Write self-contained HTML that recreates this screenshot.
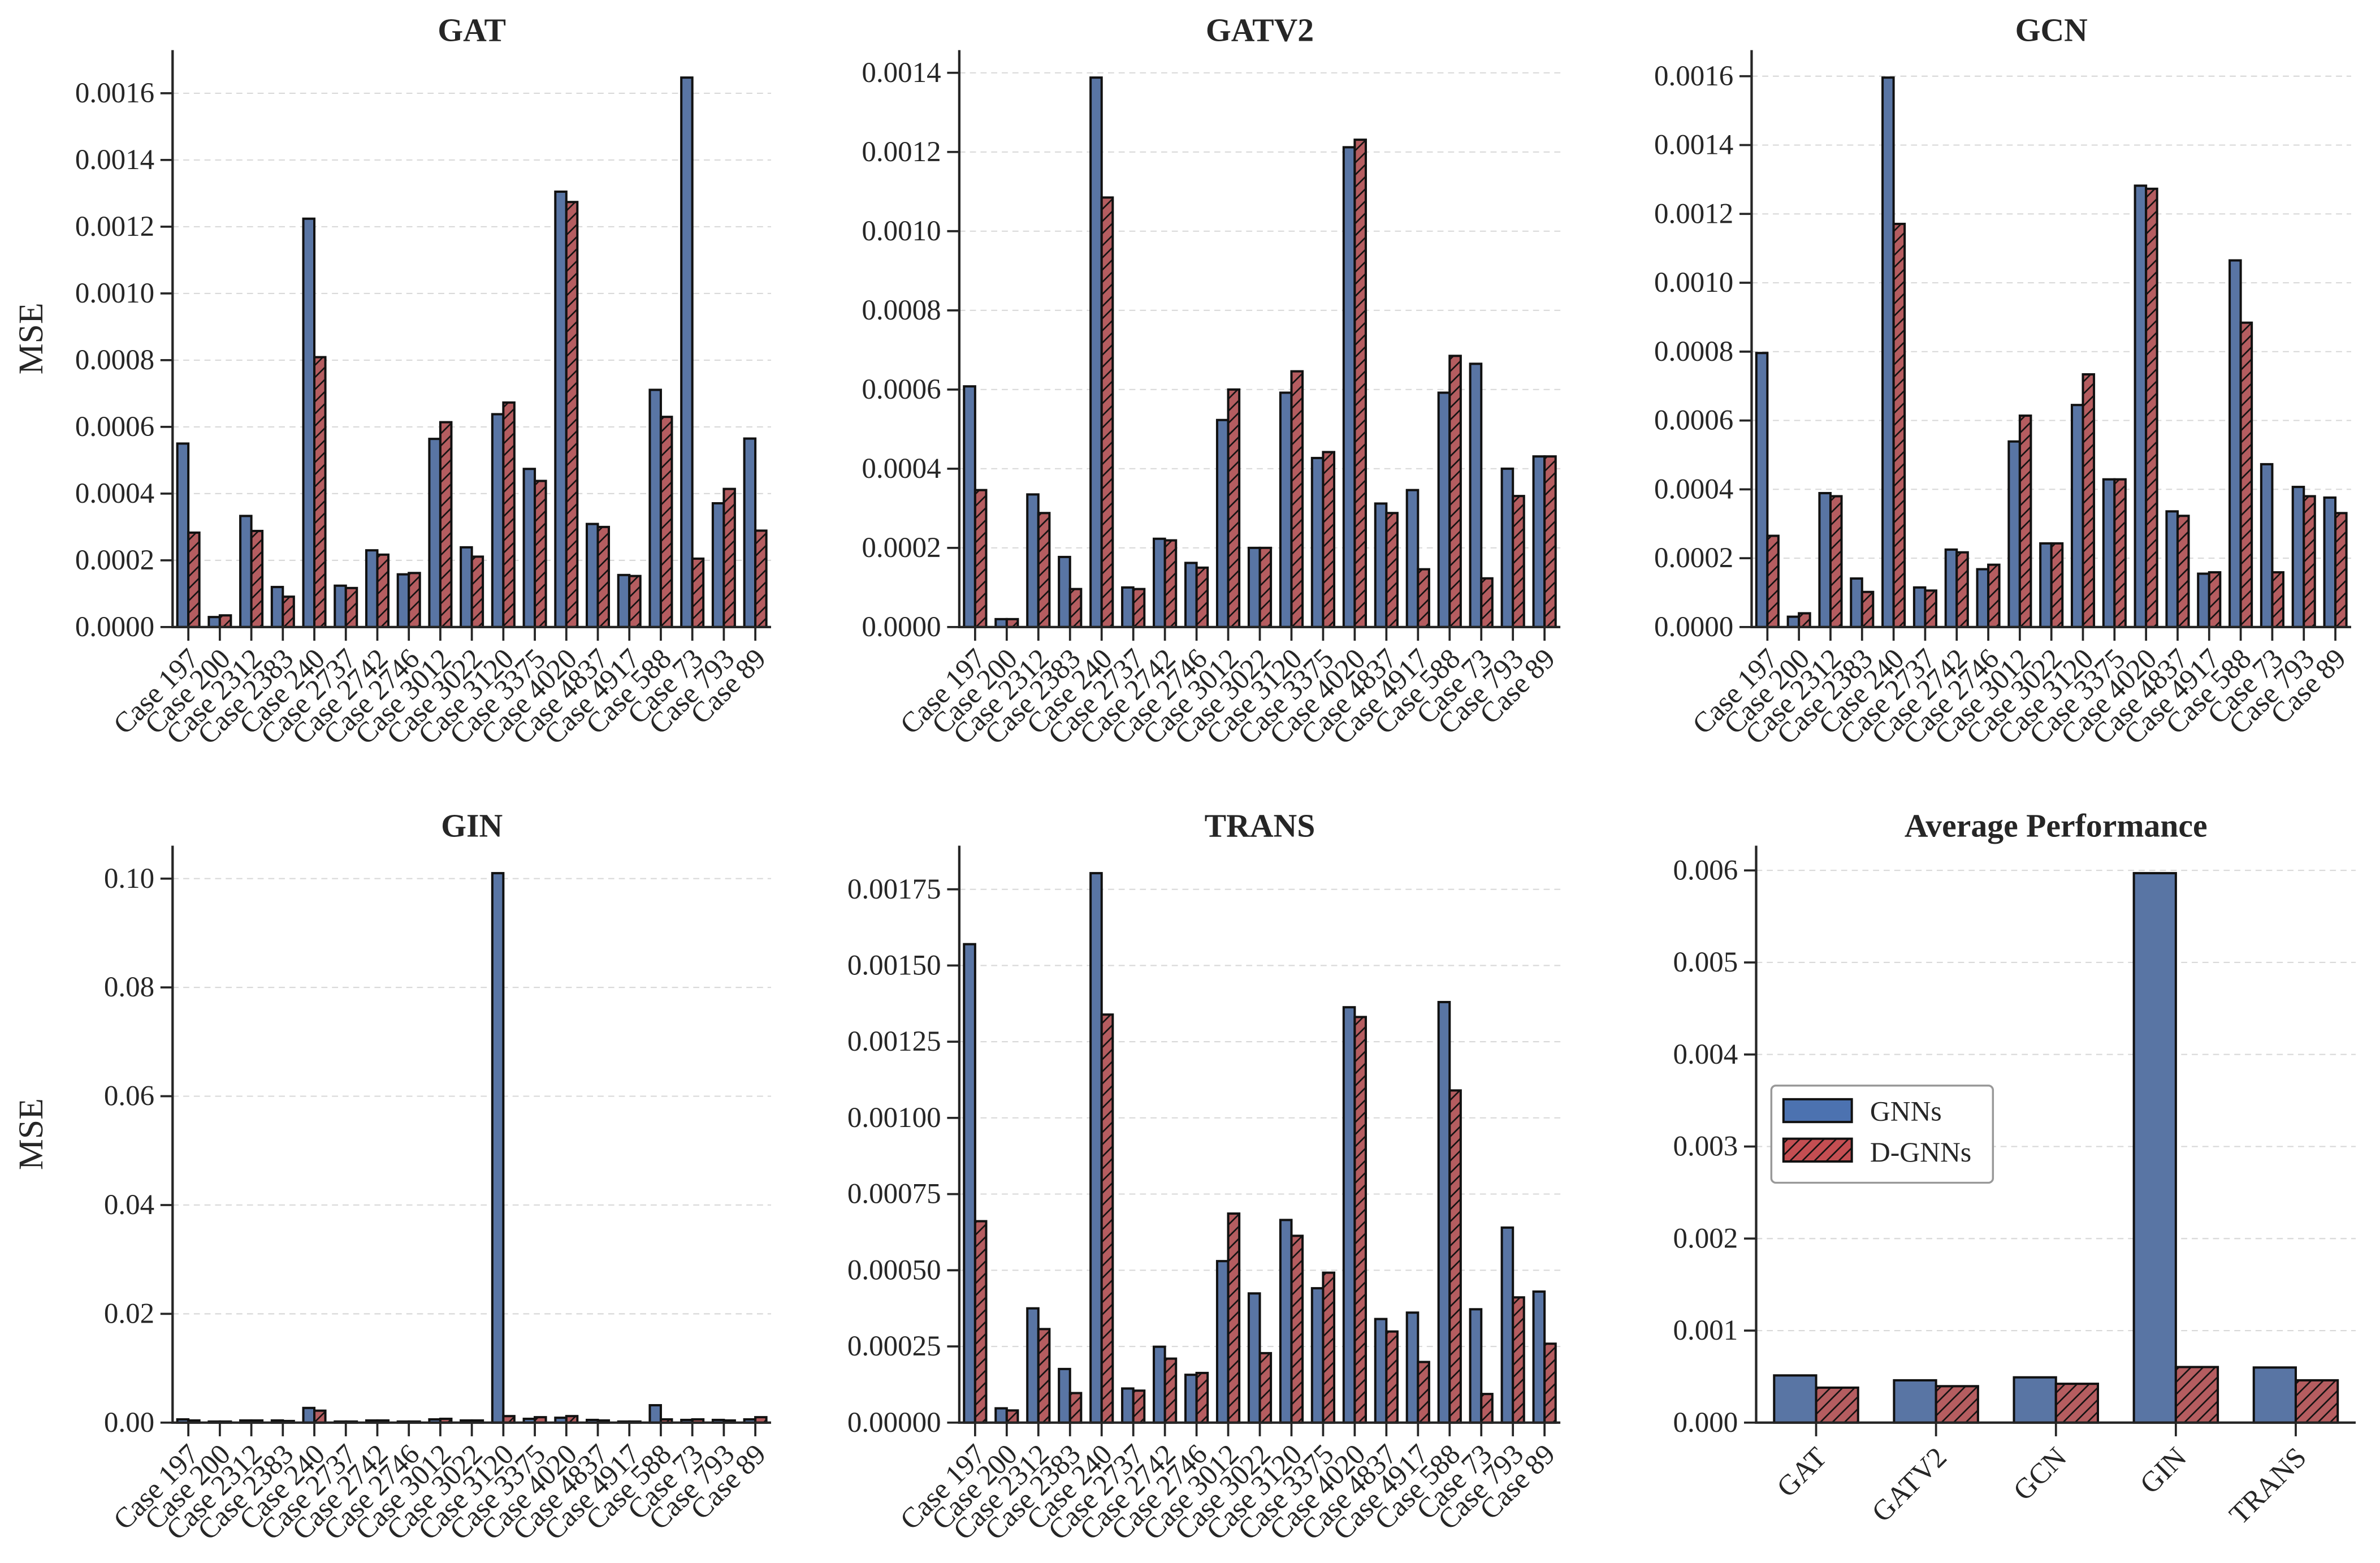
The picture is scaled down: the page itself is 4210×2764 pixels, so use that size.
<!DOCTYPE html>
<html><head><meta charset="utf-8"><style>
html,body{margin:0;padding:0;background:#fff}
svg{display:block}
text{font-family:"Liberation Serif","DejaVu Serif",serif;fill:#262626}
</style></head><body>
<svg id="fig" xmlns="http://www.w3.org/2000/svg" width="4210" height="2764" viewBox="0 0 1568 1029.45">
<defs>
<pattern id="hatch" patternUnits="userSpaceOnUse" width="8" height="8">
<rect width="8" height="8" fill="#b55d60"/>
<path d="M-1,1 L1,-1 M0,8 L8,0 M7,9 L9,7" stroke="#111" stroke-width="1"/>
</pattern>
<pattern id="hatchL" patternUnits="userSpaceOnUse" width="8" height="8">
<rect width="8" height="8" fill="#c44e52"/>
<path d="M-1,1 L1,-1 M0,8 L8,0 M7,9 L9,7" stroke="#111" stroke-width="1"/>
</pattern>
</defs>
<g id="root"></g>
</svg>
<script>
const cases = ["Case 197","Case 200","Case 2312","Case 2383","Case 240","Case 2737","Case 2742","Case 2746","Case 3012","Case 3022","Case 3120","Case 3375","Case 4020","Case 4837","Case 4917","Case 588","Case 73","Case 793","Case 89"];
const gatGNN = [0.000550,0.000030,0.000333,0.000120,0.001224,0.000124,0.000230,0.000158,0.000564,0.000239,0.000638,0.000474,0.001305,0.000309,0.000156,0.000711,0.001647,0.000371,0.000565];
const gatDGNN = [0.000283,0.000035,0.000288,0.000091,0.000809,0.000117,0.000217,0.000162,0.000614,0.000211,0.000673,0.000438,0.001274,0.000300,0.000153,0.000630,0.000205,0.000414,0.000289];
const gatv2GNN = [0.000608,0.000020,0.000335,0.000177,0.001388,0.000100,0.000223,0.000162,0.000523,0.000200,0.000592,0.000427,0.001212,0.000312,0.000346,0.000592,0.000665,0.000400,0.000431];
const gatv2DGNN = [0.000346,0.000020,0.000288,0.000096,0.001085,0.000096,0.000219,0.000150,0.000600,0.000200,0.000646,0.000442,0.001231,0.000288,0.000146,0.000685,0.000123,0.000331,0.000431];
const gcnGNN = [0.000796,0.000030,0.000389,0.000141,0.001596,0.000115,0.000225,0.000168,0.000539,0.000243,0.000645,0.000429,0.001282,0.000336,0.000155,0.001065,0.000473,0.000407,0.000376];
const gcnDGNN = [0.000265,0.000040,0.000380,0.000102,0.001171,0.000106,0.000217,0.000181,0.000614,0.000243,0.000734,0.000429,0.001273,0.000323,0.000159,0.000884,0.000159,0.000380,0.000331];
const ginGNN = [0.0006,0.0002,0.0004,0.0004,0.0027,0.0002,0.0004,0.0002,0.0006,0.0004,0.101,0.0007,0.0009,0.0005,0.0002,0.0032,0.0005,0.0005,0.0006];
const ginDGNN = [0.0004,0.0002,0.0004,0.0003,0.0022,0.0002,0.0004,0.0002,0.0007,0.0004,0.0012,0.0010,0.0012,0.0004,0.0002,0.0006,0.0006,0.0004,0.0010];
const transGNN = [0.00157,0.000047,0.000375,0.000176,0.001803,0.000112,0.000249,0.000157,0.000530,0.000424,0.000665,0.000441,0.001363,0.000340,0.000361,0.001380,0.000372,0.000640,0.000430];
const transDGNN = [0.000661,0.000040,0.000307,0.000097,0.001339,0.000105,0.000210,0.000163,0.000686,0.000228,0.000613,0.000492,0.001331,0.000299,0.000199,0.001090,0.000094,0.000411,0.000259];
const models = ["GAT","GATV2","GCN","GIN","TRANS"];
const avgGNN = [0.000513,0.000460,0.000492,0.00597,0.000599];
const avgDGNN = [0.000380,0.000396,0.000422,0.000604,0.000460];
const ticksGAT = [0,0.0002,0.0004,0.0006,0.0008,0.0010,0.0012,0.0014,0.0016];
const ticksGATV2 = [0,0.0002,0.0004,0.0006,0.0008,0.0010,0.0012,0.0014];
const ticksGCN = [0,0.0002,0.0004,0.0006,0.0008,0.0010,0.0012,0.0014,0.0016];
const ticksGIN = [0,0.02,0.04,0.06,0.08,0.10];
const ticksTRANS = [0,0.00025,0.0005,0.00075,0.001,0.00125,0.0015,0.00175];
const ticksAVG = [0,0.001,0.002,0.003,0.004,0.005,0.006];

const NS="http://www.w3.org/2000/svg";
const root=document.getElementById('root');
function mk(tag,attrs,parent){const e=document.createElementNS(NS,tag);for(const k in attrs)e.setAttribute(k,attrs[k]);(parent||root).appendChild(e);return e;}

function panel(o){
  const g=mk('g',{});
  
  
  const n=o.cats.length;
  const ymax=Math.max(...o.a,...o.b)*1.05;
  const ux=(o.right-o.left)/n;
  const xs=i=>o.left+(i+0.5)*ux;
  const ys=v=>o.bottom-v/ymax*(o.bottom-o.top);
  o.ticks.forEach(t=>{
    const y=ys(t);
    if(t>0){const gl=mk('line',{x1:o.left,x2:o.right,y1:y,y2:y,stroke:'#d9d9d9','stroke-width':0.8,'stroke-dasharray':'4,3'},g);
      
      }
    const tk=mk('line',{x1:o.left-8,x2:o.left,y1:y,y2:y,stroke:'#262626','stroke-width':1.4},g);
    
    
    const tl=mk('text',{x:o.left-12,y:y+6,'text-anchor':'end','font-size':19},g);
    tl.textContent=t.toFixed(o.dec);
    
    
  });
  const bw=0.35*ux;
  for(let i=0;i<n;i++){
    const x=xs(i);
    const r1=mk('rect',{x:x-bw,y:ys(o.a[i]),width:bw,height:o.bottom-ys(o.a[i]),fill:'#5975a4',stroke:'#111','stroke-width':1.5},g);
    
    
    const r2=mk('rect',{x:x,y:ys(o.b[i]),width:bw,height:o.bottom-ys(o.b[i]),fill:'url(#hatch)',stroke:'#111','stroke-width':1.5},g);
    
    
    const tk=mk('line',{x1:x,x2:x,y1:o.bottom,y2:o.bottom+9,stroke:'#262626','stroke-width':1.4},g);
    
    
    const lx=x+8, ly=o.bottom+(o.avg?24:22);
    const tl=mk('text',{x:lx,y:ly,'text-anchor':'end','font-size':19,transform:'rotate(-45 '+lx+' '+ly+')'},g);
    tl.textContent=o.cats[i];
    
    
  }
  const sp=mk('path',{d:'M'+o.left+','+o.top+' L'+o.left+','+o.bottom+' L'+o.right+','+o.bottom,fill:'none',stroke:'#262626','stroke-width':1.6},g);
  
  
  const ti=mk('text',{x:(o.left+o.right)/2,y:o.top-6,'text-anchor':'middle','font-size':21.5,'font-weight':'bold'},g);
  ti.textContent=o.title;
  
  
  if(o.ylabel){
    const cy=(o.top+o.bottom)/2;
    const yl=mk('text',{x:28,y:cy,'text-anchor':'middle','font-size':23,transform:'rotate(-90 28 '+cy+')'},g);
    yl.textContent='MSE';
    
    
  }
  return g;
}
panel({id:'gat',title:'GAT',cats:cases,a:gatGNN,b:gatDGNN,left:113.7,right:508,top:33,bottom:413,ticks:ticksGAT,dec:4,ylabel:true});
panel({id:'gatv2',title:'GATV2',cats:cases,a:gatv2GNN,b:gatv2DGNN,left:632,right:1028,top:33,bottom:413,ticks:ticksGATV2,dec:4});
panel({id:'gcn',title:'GCN',cats:cases,a:gcnGNN,b:gcnDGNN,left:1154,right:1549,top:33,bottom:413,ticks:ticksGCN,dec:4});
panel({id:'gin',title:'GIN',cats:cases,a:ginGNN,b:ginDGNN,left:113.7,right:508,top:557,bottom:937,ticks:ticksGIN,dec:2,ylabel:true});
panel({id:'trans',title:'TRANS',cats:cases,a:transGNN,b:transDGNN,left:632,right:1028,top:557,bottom:937,ticks:ticksTRANS,dec:5});
panel({id:'avg',title:'Average Performance',cats:models,a:avgGNN,b:avgDGNN,left:1157,right:1552,top:557,bottom:937,ticks:ticksAVG,dec:3,avg:true});

const lg=mk('g',{});


mk('rect',{x:1167,y:715,width:146,height:64,rx:3,fill:'#fff',stroke:'#999','stroke-width':1.3},lg);
const p1=mk('rect',{x:1175,y:724,width:45,height:15,fill:'#4c72b0',stroke:'#111','stroke-width':1.5},lg);


const p2=mk('rect',{x:1175,y:750,width:45,height:15,fill:'url(#hatchL)',stroke:'#111','stroke-width':1.5},lg);


const t1=mk('text',{x:1232,y:738,'font-size':18.5},lg);t1.textContent='GNNs';


const t2=mk('text',{x:1232,y:765,'font-size':18.5},lg);t2.textContent='D-GNNs';


</script>
</body></html>
